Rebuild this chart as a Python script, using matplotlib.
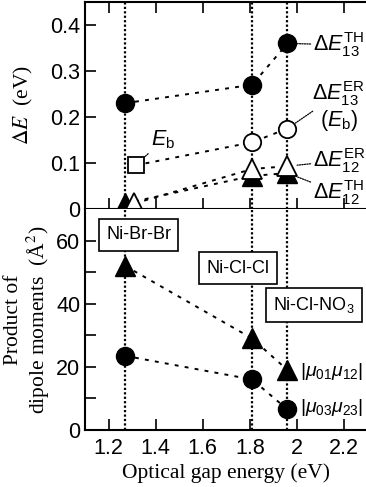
import matplotlib
matplotlib.use('Agg')
import matplotlib.pyplot as plt
import numpy as np

plt.rcParams['font.family'] = ['Liberation Sans', 'DejaVu Sans']
plt.rcParams['mathtext.fontset'] = 'custom'
plt.rcParams['mathtext.rm'] = 'Liberation Sans'
plt.rcParams['mathtext.it'] = 'Liberation Sans:italic'
plt.rcParams['mathtext.bf'] = 'Liberation Sans:bold'

# compounds: Ni-Br-Br, Ni-Cl-Cl, Ni-Cl-NO3
gap = [1.27, 1.81, 1.96]
compounds = ['Ni-Br-Br', 'Ni-Cl-Cl', 'Ni-Cl-NO$_3$']
xticks = [1.2, 1.4, 1.6, 1.8, 2.0, 2.2]
xticklabels = ['1.2', '1.4', '1.6', '1.8', '2', '2.2']

# top panel (eV)
de13_th = [0.23, 0.27, 0.36]
de13_er_x = [1.81, 1.96]
de13_er = [0.145, 0.175]
eb_x = [1.315]
eb = [0.095]
de12_th = [0.012, 0.072, 0.078]
de12_er_x = [1.31, 1.81, 1.96]
de12_er = [0.012, 0.087, 0.093]

# bottom panel (A^2)
mu01_mu12 = [52, 29, 19]
mu03_mu23 = [23.5, 16, 6.5]

W, H = 366, 487
fig = plt.figure(figsize=(W / 100, H / 100), dpi=100)
left = 85 / W
right = 367.5 / W
ax1 = fig.add_axes([left, 1 - 209 / H, right - left, 207 / H])
ax2 = fig.add_axes([left, 1 - 430 / H, right - left, 221 / H])

tick_font = 15.5
lab_font = 15.5
dots = dict(color='black', lw=1.4, ls=(0, (2, 3.2)), zorder=2)
vdots = dict(color='black', lw=1.6, ls=(0, (1, 1)), zorder=1)
lead = dict(arrowstyle='-', color='black', lw=0.9, ls=(0, (1, 1)),
            shrinkA=0, shrinkB=7)

for ax in (ax1, ax2):
    ax.set_xlim(1.1, 2.3)
    ax.set_xticks(xticks)
    ax.set_xticklabels(xticklabels)
    for g in gap:
        ax.axvline(g, **vdots)
    for s in ax.spines.values():
        s.set_linewidth(1.5)
    ax.spines['right'].set_visible(False)
    ax.tick_params(direction='in', length=8, width=1.2, labelsize=tick_font)

# ---- top panel
ax1.set_ylim(0, 0.45)
ax1.set_yticks([0, 0.1, 0.2, 0.3, 0.4])
ax1.set_yticklabels(['0', '0.1', '0.2', '0.3', '0.4'])
ax1.tick_params(axis='x', top=True, labelbottom=False)
ax1.spines['bottom'].set_zorder(5)

ax1.plot(gap, de13_th, **dots)
ax1.plot(eb_x + de13_er_x, eb + de13_er, **dots)
ax1.plot(gap, de12_th, **dots)
ax1.plot(de12_er_x, de12_er, **dots)

ax1.plot(gap, de13_th, 'o', ms=13, mfc='black', mec='black', zorder=4)
ax1.plot(de13_er_x, de13_er, 'o', ms=12.5, mfc='white', mec='black', mew=1.3, zorder=4)
ax1.plot(eb_x, eb, 's', ms=11.5, mfc='white', mec='black', mew=1.3, zorder=4)
ax1.plot(gap, de12_th, '^', ms=14, mfc='black', mec='black', zorder=3, clip_on=False)
ax1.plot(de12_er_x, de12_er, '^', ms=14, mfc='white', mec='black', mew=1.3, zorder=4, clip_on=False)

ax1.annotate(r'$\Delta E_{13}^{\mathrm{TH}}$', xy=(gap[2], de13_th[2]), xytext=(2.07, 0.357),
             fontsize=lab_font, va='center', ha='left', arrowprops=lead)
ax1.annotate(r'$\Delta E_{13}^{\mathrm{ER}}$', xy=(de13_er_x[1], de13_er[1]), xytext=(2.063, 0.25),
             fontsize=lab_font, va='center', ha='left', arrowprops=lead)
ax1.text(2.178, 0.192, r'($E_{\mathrm{b}}$)', fontsize=lab_font, va='center', ha='center')
ax1.annotate(r'$\Delta E_{12}^{\mathrm{ER}}$', xy=(de12_er_x[2], de12_er[2]), xytext=(2.07, 0.105),
             fontsize=lab_font, va='center', ha='left', arrowprops=lead)
ax1.annotate(r'$\Delta E_{12}^{\mathrm{TH}}$', xy=(gap[2], de12_th[2]), xytext=(2.07, 0.035),
             fontsize=lab_font, va='center', ha='left', arrowprops=lead)
ax1.annotate(r'$E_{\mathrm{b}}$', xy=(eb_x[0], eb[0]), xytext=(1.38, 0.15),
             fontsize=lab_font, va='center', ha='left', arrowprops=lead)

ax1.set_ylabel(r'$\Delta E$  (eV)', family='Liberation Serif', math_fontfamily='stix',
               fontsize=lab_font, labelpad=11)

# ---- bottom panel
ax2.set_ylim(0, 70)
ax2.set_yticks([0, 20, 40, 60])
ax2.set_yticks([10, 30, 50], minor=True)
ax2.tick_params(axis='y', which='minor', direction='in', length=8, width=1.2)
ax2.tick_params(axis='x', pad=6)
ax2.spines['top'].set_visible(False)

ax2.plot(gap, mu01_mu12, **dots)
ax2.plot(gap, mu03_mu23, **dots)
ax2.plot(gap, mu01_mu12, '^', ms=15, mfc='black', mec='black', zorder=4)
ax2.plot(gap, mu03_mu23, 'o', ms=13, mfc='black', mec='black', zorder=4)

ax2.text(2.013, 18.4, r'$|\mu_{01}\mu_{12}|$', fontsize=14, va='center', ha='left')
ax2.text(2.013, 7.0, r'$|\mu_{03}\mu_{23}|$', fontsize=14, va='center', ha='left')

box = dict(boxstyle='square,pad=0.4', fc='white', ec='black', lw=1.2)
ax2.text(1.328, 61.8, compounds[0], fontsize=13, ha='center', va='center', bbox=box, zorder=6)
ax2.text(1.749, 51.3, compounds[1], fontsize=13, ha='center', va='center', bbox=box, zorder=6)
ax2.text(2.072, 39.6, compounds[2], fontsize=13, ha='center', va='center', bbox=box, zorder=6)

ax2.set_ylabel('Product of\ndipole moments  (Å$^2$)', family='Liberation Serif',
               math_fontfamily='stix', fontsize=lab_font, linespacing=1.1, labelpad=3)
ax2.set_xlabel('Optical gap energy (eV)', family='Liberation Serif', fontsize=lab_font, labelpad=3)

fig.savefig('out.png', dpi=100)
